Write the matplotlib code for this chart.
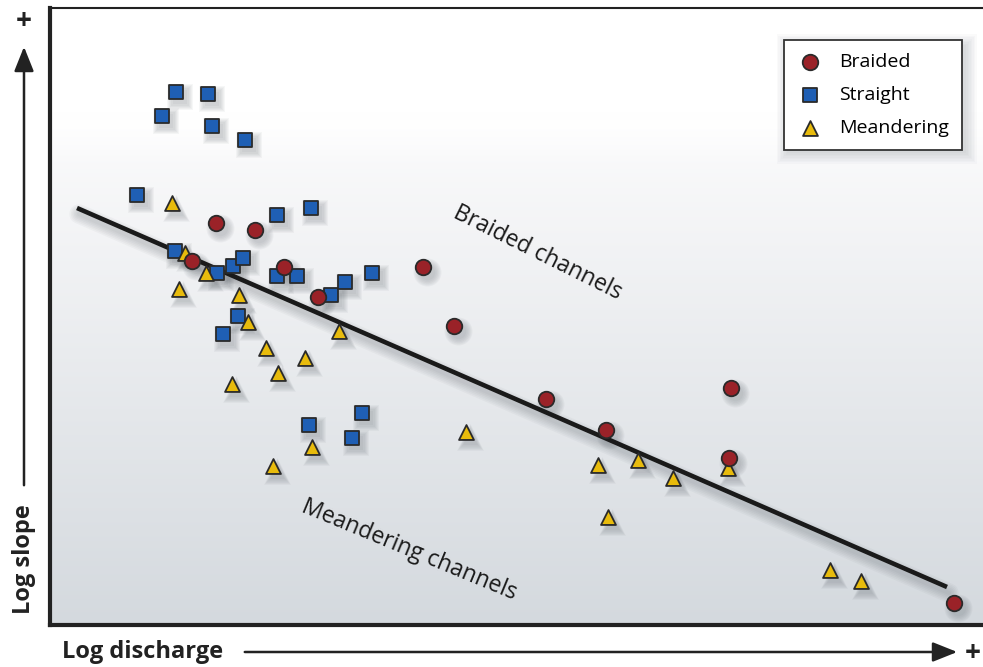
import numpy as np
import matplotlib
matplotlib.use("Agg")
import matplotlib.pyplot as plt
from matplotlib.patches import Rectangle, FancyArrowPatch

plt.rcParams['font.family'] = ['Open Sans', 'DejaVu Sans']

# Data (arbitrary log units)
braided_x = [166, 205, 142, 234, 268, 373, 404, 496, 556, 681, 679, 904]
braided_y = [402, 395, 364, 358, 328, 358, 299, 226, 195, 237, 167, 22]

straight_x = [126, 158, 112, 162, 195, 87, 261, 227, 125, 167, 183, 193, 227, 247,
              281, 295, 322, 188, 173, 259, 312, 302]
straight_y = [533, 531, 509, 499, 485, 430, 417, 410, 374, 352, 359, 367, 349, 349,
              330, 343, 352, 309, 291, 200, 212, 187]

meander_x = [122, 135, 156, 129, 189, 198, 216, 255, 228, 182, 289, 262, 223, 416,
             548, 588, 623, 678, 558, 780, 811]
meander_y = [422, 372, 352, 336, 330, 303, 277, 267, 252, 241, 294, 178, 159, 193,
             160, 165, 147, 157, 108, 55, 44]

line_x = [27, 897]
line_y = [417, 38]

XMAX, YMAX = 933, 617

W, H = 983, 667
fig = plt.figure(figsize=(W / 100, H / 100), dpi=100)
ax = fig.add_axes([50 / W, (H - 625) / H, (W - 50) / W, (625 - 8) / H])
ax.set_xlim(0, XMAX)
ax.set_ylim(0, YMAX)

# background gradient
rows = np.linspace(0, 1, 400)  # 0 top -> 1 bottom
t = np.clip((rows - 0.22) / 0.78, 0, 1)
r = (250 - 38 * t) / 255
g = (250 - 33 * t) / 255
b = (251 - 29 * t) / 255
blend = np.clip((rows - 0.17) / 0.09, 0, 1)
blend = blend * blend * (3 - 2 * blend)
r = 1 - blend * (1 - r)
g = 1 - blend * (1 - g)
b = 1 - blend * (1 - b)
img = np.stack([r, g, b], axis=-1)[:, None, :]
ax.imshow(img, extent=[0, XMAX, 0, YMAX], aspect='auto', zorder=0, interpolation='bilinear')

def soft_shadow(x, y, marker, s):
    x = np.asarray(x) + 4
    y = np.asarray(y) - 5
    for k in range(6):
        ax.scatter(x, y, s=s * (1 + 0.45 * k), marker=marker, color='#404850',
                   alpha=0.045, linewidths=0, zorder=2)

# line shadow
for k in range(6):
    ax.plot(np.array(line_x) + 2, np.array(line_y) - 6, color='#404850',
            lw=3 + 2.2 * k, alpha=0.04, solid_capstyle='round', zorder=1.5)
ax.plot(line_x, line_y, color='#1a1a1a', lw=3.3, solid_capstyle='butt', zorder=3)

soft_shadow(braided_x, braided_y, 'o', 125)
soft_shadow(straight_x, straight_y, 's', 115)
soft_shadow(meander_x, meander_y, '^', 115)

ec = '#2a2a2a'
hs = ax.scatter(straight_x, straight_y, s=115, marker='s', color='#1f5fb4',
                edgecolors=ec, linewidths=1.3, zorder=4, label='Straight')
hm = ax.scatter(meander_x, meander_y, s=115, marker='^', color='#e8bb0c',
                edgecolors=ec, linewidths=1.3, zorder=4, label='Meandering')
hb = ax.scatter(braided_x, braided_y, s=125, marker='o', color='#9a2228',
                edgecolors=ec, linewidths=1.3, zorder=4, label='Braided')

# region labels
ax.text(488, 372, 'Braided channels', rotation=-26.5, ha='center', va='center',
        fontsize=16.5, color='#1a1a1a', rotation_mode='anchor', zorder=5)
ax.text(359, 75, 'Meandering channels', rotation=-22.5, ha='center', va='center',
        fontsize=16.5, color='#1a1a1a', rotation_mode='anchor', zorder=5)

# legend shadow (soft)
lx0, lx1 = (783 - 50) / XMAX, (962 - 50) / XMAX
ly0, ly1 = (625 - 148) / YMAX, (625 - 40) / YMAX
for k in range(8):
    pad = k * 1.5
    ax.add_patch(Rectangle((lx0 + (4 - pad) / XMAX, ly0 - (5 + pad) / YMAX),
                           (lx1 - lx0) + 2 * pad / XMAX, (ly1 - ly0) + 2 * pad / YMAX,
                           transform=ax.transAxes, color='#404850', alpha=0.025,
                           lw=0, zorder=5))
leg = ax.legend(handles=[hb, hs, hm], labels=['Braided', 'Straight', 'Meandering'],
                loc='upper right', bbox_to_anchor=(lx1, ly1), fontsize=14,
                frameon=True, fancybox=False, framealpha=1, edgecolor='#333333',
                borderpad=0.65, labelspacing=0.78, handletextpad=0.8,
                handlelength=1.4, borderaxespad=0, markerscale=1.0)
leg.get_frame().set_linewidth(1.3)
leg.set_zorder(6)

# spines
ax.spines['right'].set_visible(False)
ax.spines['left'].set_linewidth(3.0)
ax.spines['bottom'].set_linewidth(3.0)
ax.spines['top'].set_linewidth(1.5)
for side in ['left', 'bottom', 'top']:
    ax.spines[side].set_color('#222222')
ax.set_xticks([])
ax.set_yticks([])

# axis labels and arrows (figure coords)
fig.text(62 / W, 1 - 652 / H, 'Log discharge', ha='left', va='center',
         fontsize=17, fontweight='bold', color='#222222')
fig.text(24 / W, 1 - 614 / H, 'Log slope', ha='center', va='bottom', rotation=90,
         fontsize=17, fontweight='bold', color='#222222')
fig.patches.append(FancyArrowPatch(
    (242 / W, 1 - 652 / H), (960 / W, 1 - 652 / H), transform=fig.transFigure,
    arrowstyle='-|>,head_length=10,head_width=4', color='#222222', lw=1.8,
    mutation_scale=1.5))
fig.patches.append(FancyArrowPatch(
    (24 / W, 1 - 488 / H), (24 / W, 1 - 44 / H), transform=fig.transFigure,
    arrowstyle='-|>,head_length=10,head_width=4', color='#222222', lw=1.8,
    mutation_scale=1.5))
fig.text(973 / W, 1 - 653 / H, '+', ha='center', va='center', fontsize=20,
         fontweight='bold', color='#222222')
fig.text(24 / W, 1 - 22 / H, '+', ha='center', va='center', fontsize=20,
         fontweight='bold', color='#222222')

fig.savefig('out.png', dpi=100)
